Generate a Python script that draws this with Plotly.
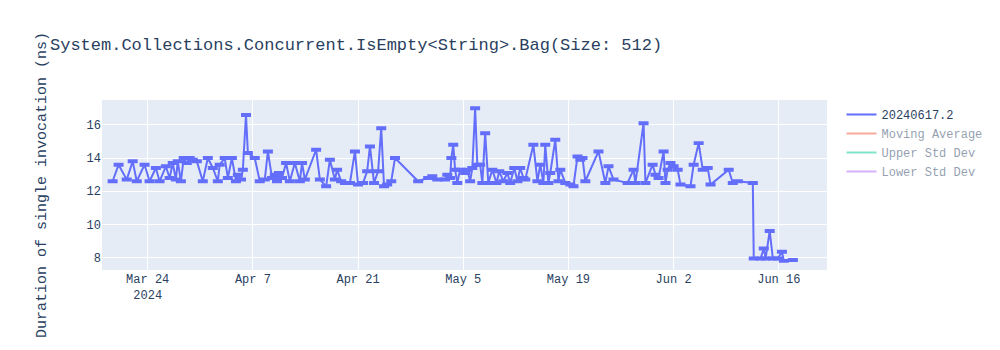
import plotly.graph_objects as go

# Benchmark run timestamps and mean durations (ns) for build 20240617.2
dates = [
    "2024-03-19 08:00", "2024-03-20 03:00", "2024-03-21 05:00", "2024-03-22 00:00",
    "2024-03-22 13:00", "2024-03-23 14:00", "2024-03-24 06:00", "2024-03-25 02:00",
    "2024-03-25 14:00", "2024-03-26 10:00", "2024-03-26 22:00", "2024-03-27 08:00",
    "2024-03-27 18:00", "2024-03-28 00:00", "2024-03-28 10:00", "2024-03-28 19:00",
    "2024-03-29 05:00", "2024-03-29 14:00", "2024-03-30 00:00", "2024-03-30 13:00",
    "2024-03-31 08:00", "2024-04-01 00:00", "2024-04-01 16:00", "2024-04-02 08:00",
    "2024-04-02 14:00", "2024-04-03 06:00", "2024-04-03 16:00", "2024-04-04 05:00",
    "2024-04-04 18:00", "2024-04-05 00:00", "2024-04-05 10:00", "2024-04-05 16:00",
    "2024-04-06 02:00", "2024-04-06 08:00", "2024-04-07 06:00", "2024-04-07 22:00",
    "2024-04-08 14:00", "2024-04-09 00:00", "2024-04-09 13:00", "2024-04-09 22:00",
    "2024-04-10 05:00", "2024-04-10 11:00", "2024-04-10 21:00", "2024-04-11 10:00",
    "2024-04-11 22:00", "2024-04-12 14:00", "2024-04-13 06:00", "2024-04-13 13:00",
    "2024-04-13 22:00", "2024-04-15 10:00", "2024-04-15 22:00", "2024-04-16 18:00",
    "2024-04-17 06:00", "2024-04-17 22:00", "2024-04-18 05:00", "2024-04-18 18:00",
    "2024-04-19 06:00", "2024-04-19 22:00", "2024-04-20 14:00", "2024-04-21 00:00",
    "2024-04-21 16:00", "2024-04-22 05:00", "2024-04-22 14:00", "2024-04-23 03:00",
    "2024-04-23 16:00", "2024-04-24 02:00", "2024-04-24 11:00", "2024-04-24 21:00",
    "2024-04-25 10:00", "2024-04-25 22:00", "2024-04-29 00:00", "2024-04-30 08:00",
    "2024-04-30 21:00", "2024-05-01 13:00", "2024-05-02 14:00", "2024-05-02 21:00",
    "2024-05-03 06:00", "2024-05-03 10:00", "2024-05-03 16:00", "2024-05-03 22:00",
    "2024-05-04 05:00", "2024-05-04 14:00", "2024-05-05 06:00", "2024-05-05 13:00",
    "2024-05-05 22:00", "2024-05-06 05:00", "2024-05-06 14:00", "2024-05-06 21:00",
    "2024-05-07 06:00", "2024-05-07 13:00", "2024-05-07 22:00", "2024-05-08 08:00",
    "2024-05-08 21:00", "2024-05-09 10:00", "2024-05-09 19:00", "2024-05-10 08:00",
    "2024-05-10 21:00", "2024-05-11 06:00", "2024-05-11 19:00", "2024-05-12 05:00",
    "2024-05-12 14:00", "2024-05-13 00:00", "2024-05-13 06:00", "2024-05-14 08:00",
    "2024-05-14 21:00", "2024-05-15 06:00", "2024-05-15 16:00", "2024-05-15 22:00",
    "2024-05-16 08:00", "2024-05-16 14:00", "2024-05-17 06:00", "2024-05-17 16:00",
    "2024-05-17 22:00", "2024-05-18 14:00", "2024-05-19 06:00", "2024-05-19 16:00",
    "2024-05-20 05:00", "2024-05-20 14:00", "2024-05-20 21:00", "2024-05-21 06:00",
    "2024-05-23 00:00", "2024-05-23 22:00", "2024-05-24 08:00", "2024-05-25 00:00",
    "2024-05-26 21:00", "2024-05-27 16:00", "2024-05-27 22:00", "2024-05-29 00:00",
    "2024-05-29 06:00", "2024-05-30 05:00", "2024-05-30 14:00", "2024-05-31 00:00",
    "2024-05-31 16:00", "2024-05-31 22:00", "2024-06-01 05:00", "2024-06-01 14:00",
    "2024-06-02 00:00", "2024-06-02 13:00", "2024-06-02 22:00", "2024-06-04 06:00",
    "2024-06-04 16:00", "2024-06-05 08:00", "2024-06-05 21:00", "2024-06-06 13:00",
    "2024-06-06 22:00", "2024-06-09 08:00", "2024-06-09 21:00", "2024-06-10 13:00",
    "2024-06-12 13:00", "2024-06-12 16:00", "2024-06-13 14:00", "2024-06-14 00:00",
    "2024-06-14 06:00", "2024-06-14 19:00", "2024-06-15 05:00", "2024-06-15 21:00",
    "2024-06-16 10:00", "2024-06-16 16:00", "2024-06-17 21:00",
]

durations = [
    12.6, 13.6, 12.7, 13.8, 12.6, 13.6, 12.6, 13.4,
    12.6, 13.5, 12.8, 13.7, 12.7, 13.8, 12.6, 14.0,
    13.7, 14.0, 13.9, 13.8, 12.6, 14.0, 13.4, 12.6,
    13.6, 14.0, 12.8, 14.0, 12.6, 13.0, 12.7, 13.3,
    16.6, 14.3, 14.0, 12.6, 12.7, 14.4, 12.8, 13.0,
    12.6, 13.1, 12.8, 13.7, 12.6, 13.7, 12.6, 13.7,
    12.7, 14.5, 12.7, 12.3, 13.9, 12.7, 13.3, 12.6,
    12.5, 12.5, 14.4, 12.4, 12.5, 13.2, 14.7, 12.5,
    13.2, 15.8, 12.3, 12.4, 12.6, 14.0, 12.6, 12.8,
    12.9, 12.7, 12.7, 13.0, 12.8, 14.0, 14.8, 13.3,
    12.5, 13.3, 13.1, 13.3, 12.6, 13.4, 17.0, 13.6,
    13.6, 12.5, 15.5, 12.5, 13.3, 12.5, 13.2, 12.6,
    13.1, 12.5, 13.4, 12.6, 13.4, 12.8, 12.7, 14.8,
    12.6, 13.6, 12.5, 14.8, 12.5, 13.1, 15.1, 12.6,
    13.3, 12.5, 12.4, 12.3, 14.1, 13.9, 14.0, 12.6,
    14.4, 12.5, 13.5, 12.7, 12.5, 13.3, 12.5, 16.1,
    12.5, 13.6, 13.0, 12.8, 14.4, 12.5, 13.3, 13.7,
    13.5, 13.3, 12.4, 12.3, 13.6, 14.9, 13.3, 13.4,
    12.4, 13.3, 12.5, 12.6, 12.5, 7.95, 7.95, 8.55,
    7.95, 9.6, 7.95, 7.95, 8.35, 7.8, 7.85,
]

series_name = "20240617.2"
overlay_names = ["Moving Average", "Upper Std Dev", "Lower Std Dev"]
overlay_colors = ["#EF553B", "#00CC96", "#AB63FA"]

mono = "Courier New, Liberation Mono, monospace"

fig = go.Figure()
fig.add_trace(go.Scatter(
    x=dates, y=durations, mode="lines", name=series_name,
    line=dict(color="#636EFA", width=2),
    error_y=dict(type="constant", value=0.06, color="#636EFA", thickness=2, width=5),
))
for name, color in zip(overlay_names, overlay_colors):
    fig.add_trace(go.Scatter(
        x=dates, y=durations, mode="lines", name=name,
        line=dict(color=color, width=2), visible="legendonly",
    ))

fig.update_layout(
    width=1000, height=350,
    margin=dict(l=102, t=100, b=80),
    title=dict(text="System.Collections.Concurrent.IsEmpty<String>.Bag(Size: 512)",
               font=dict(family=mono, size=17)),
    font=dict(family=mono, size=12),
    yaxis=dict(title=dict(text="Duration of single invocation (ns)", font=dict(size=15),
                          standoff=36),
               automargin=False,
               range=[7.25, 17.5], tickvals=[8, 10, 12, 14, 16]),
    xaxis=dict(range=["2024-03-17 22:00", "2024-06-22 10:00"]),
    template="plotly",
)

fig.write_html("out.html")
